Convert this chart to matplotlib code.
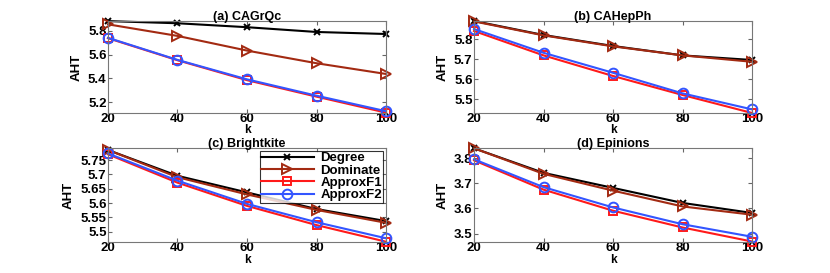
import matplotlib.pyplot as plt
from matplotlib.ticker import FuncFormatter

k = [20, 40, 60, 80, 100]

# AHT values per dataset (Degree, Dominate, ApproxF1, ApproxF2)
titles = ['(a) CAGrQc', '(b) CAHepPh', '(c) Brightkite', '(d) Epinions']

ca_grqc = {
    'Degree':   [5.880, 5.862, 5.829, 5.789, 5.772],
    'Dominate': [5.853, 5.756, 5.633, 5.527, 5.437],
    'ApproxF1': [5.737, 5.552, 5.385, 5.247, 5.113],
    'ApproxF2': [5.740, 5.555, 5.392, 5.255, 5.125],
}
ca_hepph = {
    'Degree':   [5.892, 5.822, 5.767, 5.720, 5.697],
    'Dominate': [5.890, 5.820, 5.765, 5.720, 5.688],
    'ApproxF1': [5.842, 5.720, 5.617, 5.522, 5.432],
    'ApproxF2': [5.852, 5.733, 5.633, 5.530, 5.450],
}
brightkite = {
    'Degree':   [5.785, 5.695, 5.637, 5.579, 5.537],
    'Dominate': [5.785, 5.690, 5.630, 5.576, 5.531],
    'ApproxF1': [5.770, 5.671, 5.590, 5.523, 5.465],
    'ApproxF2': [5.773, 5.678, 5.597, 5.533, 5.477],
}
epinions = {
    'Degree':   [3.840, 3.742, 3.682, 3.622, 3.582],
    'Dominate': [3.840, 3.738, 3.671, 3.608, 3.575],
    'ApproxF1': [3.792, 3.675, 3.591, 3.524, 3.468],
    'ApproxF2': [3.796, 3.685, 3.604, 3.537, 3.487],
}
datasets = [ca_grqc, ca_hepph, brightkite, epinions]

yticks = [
    [5.2, 5.4, 5.6, 5.8],
    [5.5, 5.6, 5.7, 5.8],
    [5.5, 5.55, 5.6, 5.65, 5.7, 5.75],
    [3.5, 3.6, 3.7, 3.8],
]
ylims = [(5.11, 5.881), (5.432, 5.892), (5.463, 5.791), (3.465, 3.840)]

styles = {
    'Degree':   dict(color='black', marker='x', ms=5),
    'Dominate': dict(color='#a32a12', marker='>', ms=7, mfc='none'),
    'ApproxF1': dict(color='#ff1a1a', marker='s', ms=6, mfc='none'),
    'ApproxF2': dict(color='#3355ff', marker='o', ms=7, mfc='none'),
}

plt.rcParams['font.family'] = ['Liberation Sans', 'DejaVu Sans']
plt.rcParams['font.weight'] = 'bold'

fig = plt.figure(figsize=(8.3, 2.73), dpi=100)
positions = [
    [0.1301, 0.5861, 0.335, 0.337],
    [0.5711, 0.5861, 0.335, 0.337],
    [0.1301, 0.1125, 0.335, 0.3443],
    [0.5711, 0.1125, 0.335, 0.3443],
]

for i, data in enumerate(datasets):
    ax = fig.add_axes(positions[i])
    for name in ['Degree', 'Dominate', 'ApproxF1', 'ApproxF2']:
        st = styles[name]
        ax.plot(k, data[name], color=st['color'], marker=st['marker'], ms=st['ms'],
                mfc=st.get('mfc', st['color']), mew=1.4, lw=1.5, label=name, clip_on=False)
    ax.set_xlim(20, 100)
    ax.set_ylim(*ylims[i])
    ax.set_xticks(k)
    ax.set_yticks(yticks[i])
    ax.yaxis.set_major_formatter(FuncFormatter(lambda v, p: '%g' % round(v, 3)))
    ax.tick_params(direction='in', top=True, right=True, labelsize=9.5, length=3,
                   color='#666666', pad=1)
    ax.tick_params(axis='x', pad=0)
    for lab in ax.get_xticklabels() + ax.get_yticklabels():
        lab.set_fontweight('bold')
    for sp in ax.spines.values():
        sp.set_color('#777777')
    ax.set_title(titles[i], fontsize=9, fontweight='bold', pad=1)
    ax.set_xlabel('k', fontsize=8.5, fontweight='bold', labelpad=-0.5)
    ax.set_ylabel('AHT', fontsize=9.5, fontweight='bold', labelpad=4)
    if i == 2:
        leg = ax.legend(loc='upper right', frameon=True, fancybox=False,
                        edgecolor='black', borderpad=0.1, labelspacing=0.0,
                        handlelength=4.0, handletextpad=0.5, borderaxespad=0.2,
                        prop={'weight': 'bold', 'size': 9.5})
        leg.get_frame().set_linewidth(0.8)

fig.savefig('out.png', dpi=100)
